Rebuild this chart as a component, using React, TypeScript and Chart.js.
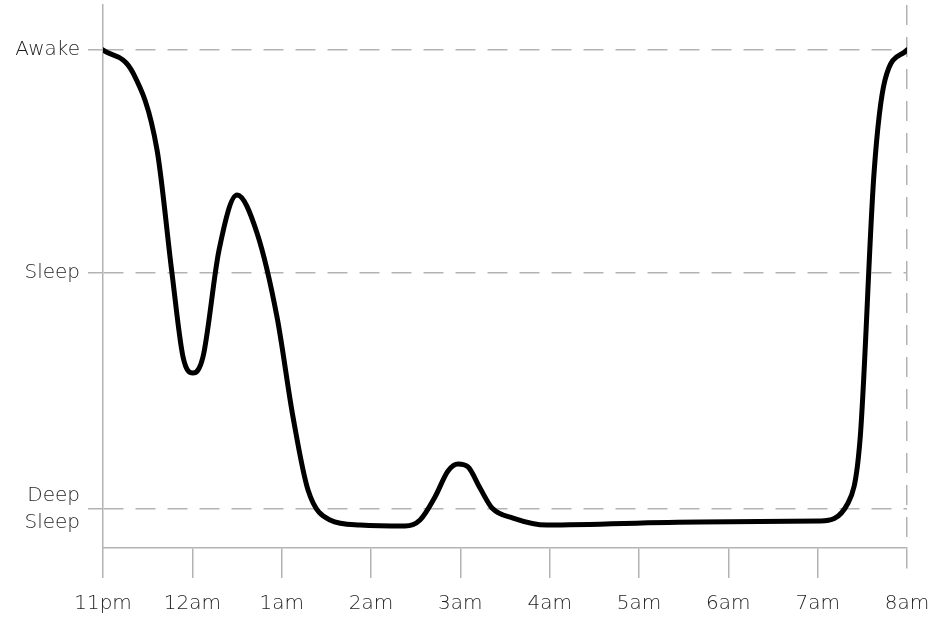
import React, { useEffect, useRef } from "react";
import { Chart, registerables } from "chart.js";

Chart.register(...registerables);

// x: hours after 11pm
const hourLabels = ["11pm", "12am", "1am", "2am", "3am", "4am", "5am", "6am", "7am", "8am"];
// sleep-stage levels on the y scale (0..100)
const levelValues = [7.2, 50.6, 91.7];
const levelLabels: (string | string[])[] = [["Deep", "Sleep"], "Sleep", "Awake"];

const curveHours = [
  0, 0.336, 0.605, 0.772, 0.896, 1.007, 1.119, 1.299, 1.5, 1.724, 1.948, 2.127, 2.295, 2.541,
  2.877, 3.381, 3.549, 3.716, 3.862, 3.974, 4.086, 4.22, 4.355, 4.59, 4.97, 6.683, 8.026,
  8.34, 8.474, 8.631, 8.754, 9.0,
];
const curveLevels = [
  91.71, 87.48, 73.3, 50.64, 35.17, 32.23, 35.17, 54.88, 65.01, 58.01, 42.54, 24.13, 10.68, 5.16,
  4.24, 4.05, 5.16, 9.39, 14.18, 15.47, 14.92, 11.05, 7.37, 5.52, 4.24, 4.79, 4.97,
  8.29, 19.89, 69.06, 86.19, 91.71,
];

const GRID = "#b3b3b3";
const TEXT = "#1e1e1e";
const FONT = "'DejaVu Sans', sans-serif";

export default function App() {
  const ref = useRef<HTMLCanvasElement | null>(null);

  useEffect(() => {
    document.body.style.margin = "0";
    const canvas = ref.current;
    if (!canvas) return;
    const lastIndex = hourLabels.length - 1;
    const chart = new Chart(canvas, {
      type: "line",
      data: {
        datasets: [
          {
            data: curveHours.map((h, i) => ({ x: h, y: curveLevels[i] })),
            borderColor: "#000000",
            borderWidth: 5,
            pointRadius: 0,
            fill: false,
            cubicInterpolationMode: "monotone",
            borderCapStyle: "round",
            borderJoinStyle: "round",
          },
        ],
      },
      options: {
        animation: false,
        responsive: false,
        devicePixelRatio: 1,
        layout: { padding: { top: 5, right: 33, left: 0, bottom: 0 } },
        plugins: { legend: { display: false }, tooltip: { enabled: false } },
        scales: {
          x: {
            type: "linear",
            min: 0,
            max: lastIndex,
            afterBuildTicks: (scale: any) => {
              scale.ticks = hourLabels.map((_, i) => ({ value: i }));
            },
            afterFit: (scale: any) => {
              scale.height = 74;
              scale.paddingLeft = 0;
              scale.paddingRight = 0;
            },
            ticks: {
              autoSkip: false,
              maxRotation: 0,
              padding: 14,
              color: TEXT,
              font: { family: FONT, size: 20, weight: "200" as any, lineHeight: 1.2 },
              callback: (value: any) => hourLabels[Math.round(Number(value))],
            },
            grid: {
              drawOnChartArea: true,
              drawTicks: true,
              tickLength: 30,
              lineWidth: 1.5,
              tickWidth: 1.5,
              color: (ctx: any) => (ctx.index === lastIndex ? GRID : "rgba(0,0,0,0)"),
              tickColor: GRID,
              tickBorderDash: (ctx: any) => (ctx.index === lastIndex ? [20, 12] : []),
            } as any,
            border: { display: true, color: GRID, width: 1.5, dash: [20, 12] },
          },
          y: {
            type: "linear",
            min: 0,
            max: 100,
            afterBuildTicks: (scale: any) => {
              scale.ticks = levelValues.map((v) => ({ value: v }));
            },
            afterFit: (scale: any) => {
              scale.width = 103;
              scale.paddingTop = 0;
              scale.paddingBottom = 0;
            },
            ticks: {
              padding: 8,
              color: TEXT,
              font: { family: FONT, size: 20, weight: "200" as any, lineHeight: 1.35 },
              callback: (value: any) => {
                const i = levelValues.indexOf(Number(value));
                return i >= 0 ? levelLabels[i] : "";
              },
            },
            grid: {
              drawTicks: true,
              tickLength: 15,
              lineWidth: 1.5,
              tickWidth: 1.5,
              color: GRID,
              tickColor: GRID,
            },
            border: { display: true, color: GRID, width: 1.5, dash: [20, 12] },
          },
        },
      } as any,
    });
    return () => chart.destroy();
  }, []);

  return (
    <div style={{ position: "absolute", left: 0, top: 0, width: 940, height: 622, background: "#fff" }}>
      <canvas ref={ref} width={940} height={622} style={{ display: "block", width: 940, height: 622 }} />
    </div>
  );
}
